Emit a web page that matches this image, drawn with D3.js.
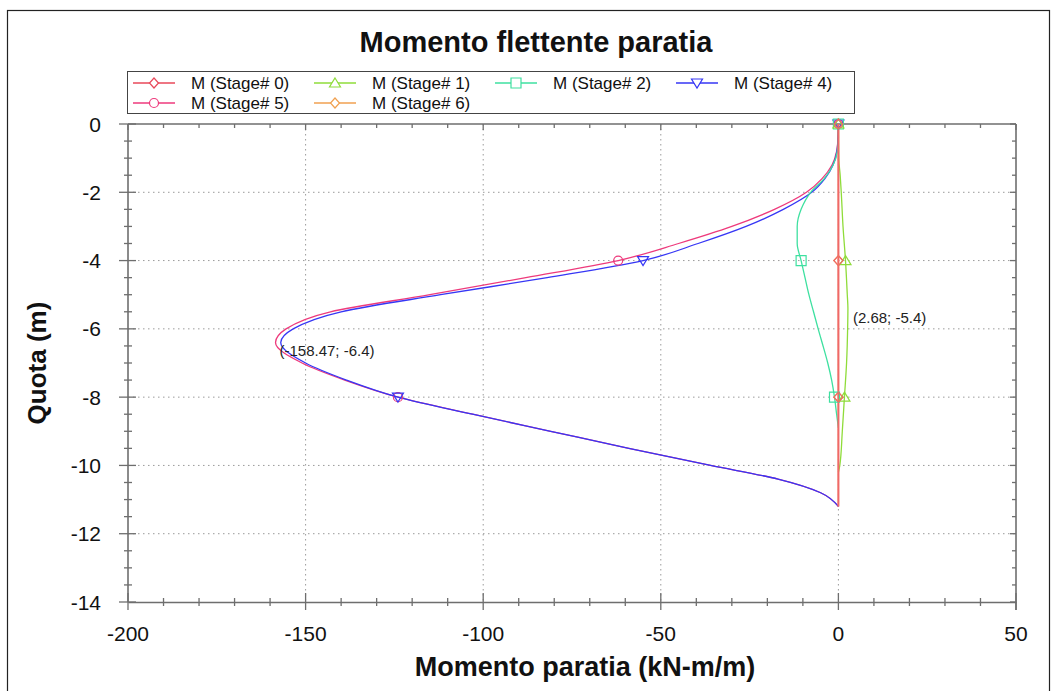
<!DOCTYPE html>
<html><head><meta charset="utf-8">
<script src="https://cdn.jsdelivr.net/npm/d3@7/dist/d3.min.js"></script>
<style>
html,body{margin:0;padding:0;background:#fff;}
svg{display:block;font-family:"Liberation Sans",Arial,sans-serif;}
</style></head>
<body>
<svg id="chart" width="1058" height="691"></svg>
<script>
// ---- data ----
const chartTitle = "Momento flettente paratia";
const xTitle = "Momento paratia (kN-m/m)";
const yTitle = "Quota (m)";
const xTicks = [-200, -150, -100, -50, 0, 50];
const yTicks = [0, -2, -4, -6, -8, -10, -12, -14];
const markerQuotas = [0, -4, -8];

const quotaMain = [0, -0.4, -0.8, -1.2, -1.6, -2, -2.5, -3, -3.5, -4, -4.5, -5, -5.5, -6, -6.4, -7, -7.5, -8, -8.5, -9, -9.5, -10, -10.4, -10.8, -11.2];
const stage0 = [0, 0, 0, 0, 0, 0, 0, 0, 0, 0, 0, 0, 0, 0, 0, 0, 0, 0, 0, 0, 0, 0, 0, 0, 0];
const stage6 = [0, 0, 0, 0, 0, 0, 0, 0, 0, 0, 0, 0, 0, 0, 0, 0, 0, 0, 0, 0, 0, 0, 0, 0, 0];
const stage5 = [0, -0.1, -0.5, -1.8, -4.6, -9, -18, -30, -45, -62, -88, -115, -143, -155.5, -158.47, -151, -139, -124, -103, -81, -59, -36, -17, -5, 0];
const stage4 = [0, -0.1, -0.4, -1.5, -3.8, -7.5, -15.5, -26, -39.5, -55, -82, -112, -140, -153.5, -157, -150, -138.5, -124, -103, -81, -59, -36, -17, -5, 0];

const quotaStage2 = [0, -0.4, -0.8, -1.2, -1.6, -2, -2.5, -3, -3.5, -4, -4.5, -5, -5.5, -6, -6.4, -7, -7.5, -8, -8.5, -8.9];
const stage2 = [0, 0, -0.3, -1.5, -4, -7.8, -10.5, -11.6, -11.6, -10.5, -9.4, -8.3, -7.0, -5.7, -4.6, -3.0, -1.9, -1.1, -0.5, 0];

const quotaStage1 = [0, -1, -1.5, -2, -3, -4, -5, -5.4, -6, -7, -8, -9, -10, -10.2];
const stage1 = [0, 0.1, 0.5, 0.8, 1.3, 2.0, 2.5, 2.68, 2.6, 2.3, 1.7, 1.1, 0.4, 0];

const series = [
  {name: "M (Stage# 0)", q: quotaMain, m: stage0, color: "#f06868", legendColor: "#e8485a", marker: "diamond", width: 2},
  {name: "M (Stage# 1)", q: quotaStage1, m: stage1, color: "#8fdc3a", legendColor: "#8fdc3a", marker: "triangle", width: 1.3},
  {name: "M (Stage# 2)", q: quotaStage2, m: stage2, color: "#3ee0a0", legendColor: "#3ee0a0", marker: "square", width: 1.3},
  {name: "M (Stage# 4)", q: quotaMain, m: stage4, color: "#3636f5", legendColor: "#3636f5", marker: "triangleDown", width: 1.3},
  {name: "M (Stage# 5)", q: quotaMain, m: stage5, color: "#ee3a7c", legendColor: "#ee3a7c", marker: "circle", width: 1.3},
  {name: "M (Stage# 6)", q: quotaMain, m: stage6, color: "#f0a050", legendColor: "#f0a050", marker: "diamond", width: 1.3}
];
const drawOrder = [5, 4, 3, 2, 1, 0];

const annotations = [
  {x: -158.47, y: -6.4, text: "(-158.47; -6.4)"},
  {x: 2.68, y: -5.4, text: "(2.68; -5.4)"}
];

// ---- layout ----
const svg = d3.select("#chart");
const L = 128, R = 1016, T = 124, B = 602;
const x = d3.scaleLinear().domain([-200, 50]).range([L, R]);
const y = d3.scaleLinear().domain([-14, 0]).range([B, T]);
const axisColor = "#6e6e6e";

// outer frame
svg.append("rect").attr("x", 7.5).attr("y", 10.5).attr("width", 1042).attr("height", 700)
  .attr("fill", "none").attr("stroke", "#222").attr("stroke-width", 1.2);

// title
svg.append("text").attr("x", 536).attr("y", 52).attr("text-anchor", "middle")
  .attr("font-size", 29).attr("font-weight", "bold").attr("fill", "#111").text(chartTitle);

// grid
const g = svg.append("g");
g.selectAll(".vg").data(xTicks.filter(v => v > -200 && v < 50)).enter().append("line")
  .attr("x1", d => x(d)).attr("x2", d => x(d)).attr("y1", T).attr("y2", B)
  .attr("stroke", "#9a9a9a").attr("stroke-width", 1).attr("stroke-dasharray", "1.5,3.5");
g.selectAll(".hg").data(yTicks.filter(v => v < 0 && v > -14)).enter().append("line")
  .attr("y1", d => y(d)).attr("y2", d => y(d)).attr("x1", L).attr("x2", R)
  .attr("stroke", "#9a9a9a").attr("stroke-width", 1).attr("stroke-dasharray", "1.5,3.5");

// axes
const minorX = d3.range(-200, 51, 10);
const minorY = d3.range(0, -14.01, -0.5);
const axG = svg.append("g").attr("stroke", axisColor).attr("stroke-width", 1.3);
// bottom
const xAxisB = d3.axisBottom(x).tickValues(minorX).tickSize(0).tickFormat("");
axG.append("g").attr("transform", `translate(0,${B})`).call(xAxisB).select(".domain").attr("stroke", axisColor).attr("stroke-width", 1.6);
axG.selectAll(".mxb").data(minorX).enter().append("line")
  .attr("x1", d => x(d)).attr("x2", d => x(d))
  .attr("y1", d => xTicks.includes(d) ? B - 9 : B - 4).attr("y2", d => xTicks.includes(d) ? B + 8 : B + 4);
// top
axG.append("line").attr("x1", L).attr("x2", R).attr("y1", T).attr("y2", T).attr("stroke-width", 1.6);
axG.selectAll(".mxt").data(minorX).enter().append("line")
  .attr("x1", d => x(d)).attr("x2", d => x(d)).attr("y1", T).attr("y2", d => xTicks.includes(d) ? T + 6 : T + 4);
// left
axG.append("line").attr("x1", L).attr("x2", L).attr("y1", T).attr("y2", B).attr("stroke-width", 1.6);
axG.selectAll(".myl").data(minorY).enter().append("line")
  .attr("y1", d => y(d)).attr("y2", d => y(d))
  .attr("x1", d => yTicks.includes(d) ? L - 9 : L - 4).attr("x2", d => yTicks.includes(d) ? L + 8 : L + 4);
// right
axG.append("line").attr("x1", R).attr("x2", R).attr("y1", T).attr("y2", B + 8).attr("stroke-width", 1.6);
axG.selectAll(".myr").data(minorY).enter().append("line")
  .attr("y1", d => y(d)).attr("y2", d => y(d)).attr("x1", d => yTicks.includes(d) ? R - 6 : R - 4).attr("x2", R);

// tick labels
svg.append("g").selectAll("text").data(xTicks).enter().append("text")
  .attr("x", d => x(d)).attr("y", 641).attr("text-anchor", "middle")
  .attr("font-size", 21).attr("fill", "#111").text(d => d);
svg.append("g").selectAll("text").data(yTicks).enter().append("text")
  .attr("x", 101).attr("y", d => y(d) + 7.5).attr("text-anchor", "end")
  .attr("font-size", 21).attr("fill", "#111").text(d => d);

// axis titles
svg.append("text").attr("x", 585).attr("y", 676).attr("text-anchor", "middle")
  .attr("font-size", 27).attr("font-weight", "bold").attr("fill", "#111").text(xTitle);
svg.append("text").attr("transform", `translate(46,${(T + B) / 2}) rotate(-90)`).attr("text-anchor", "middle")
  .attr("font-size", 26).attr("font-weight", "bold").attr("fill", "#111").text(yTitle);

// markers
function markerPath(type, cx, cy) {
  const p = d3.path();
  if (type === "diamond") { p.moveTo(cx, cy - 5); p.lineTo(cx + 4.5, cy); p.lineTo(cx, cy + 5); p.lineTo(cx - 4.5, cy); p.closePath(); }
  else if (type === "triangle") { p.moveTo(cx, cy - 5); p.lineTo(cx + 5.5, cy + 4); p.lineTo(cx - 5.5, cy + 4); p.closePath(); }
  else if (type === "triangleDown") { p.moveTo(cx - 5.5, cy - 4); p.lineTo(cx + 5.5, cy - 4); p.lineTo(cx, cy + 5); p.closePath(); }
  else if (type === "square") { p.rect(cx - 5, cy - 5, 10, 10); }
  else if (type === "circle") { p.moveTo(cx + 4.5, cy); p.arc(cx, cy, 4.5, 0, 2 * Math.PI); }
  return p.toString();
}

const line = d3.line().x(d => x(d[1])).y(d => y(d[0])).curve(d3.curveMonotoneY);
const plotG = svg.append("g");
drawOrder.forEach(i => {
  const s = series[i];
  const pts = s.q.map((q, k) => [q, s.m[k]]);
  plotG.append("path").attr("d", line(pts)).attr("fill", "none")
    .attr("stroke", s.color).attr("stroke-width", s.width);
});
drawOrder.forEach(i => {
  const s = series[i];
  const pts = s.q.map((q, k) => [q, s.m[k]]).filter(p => markerQuotas.includes(p[0]));
  plotG.selectAll(null).data(pts).enter().append("path")
    .attr("d", p => markerPath(s.marker, x(p[1]), y(p[0])))
    .attr("fill", "none").attr("stroke", s.color).attr("stroke-width", 1.2);
});

// annotations
svg.append("g").selectAll("text").data(annotations).enter().append("text")
  .attr("x", d => d.x < 0 ? x(d.x) + 4 : x(d.x) + 5)
  .attr("y", d => y(d.y) + (d.x < 0 ? 13 : 15))
  .attr("font-size", 15).attr("fill", "#222").text(d => d.text);

// legend
const lg = svg.append("g");
lg.append("rect").attr("x", 127.5).attr("y", 71.5).attr("width", 727).attr("height", 42)
  .attr("fill", "#fff").attr("stroke", "#444").attr("stroke-width", 1);
series.forEach((s, i) => {
  const col = i % 4, row = Math.floor(i / 4);
  const lx = 133 + col * 181, ly = 83 + row * 20;
  lg.append("line").attr("x1", lx).attr("x2", lx + 42).attr("y1", ly).attr("y2", ly)
    .attr("stroke", s.legendColor).attr("stroke-width", 1.5);
  lg.append("path").attr("d", markerPath(s.marker, lx + 21, ly)).attr("fill", "#fff")
    .attr("stroke", s.legendColor).attr("stroke-width", 1.2);
  lg.append("text").attr("x", lx + 58).attr("y", ly + 6).attr("font-size", 17).attr("fill", "#111").text(s.name);
});
</script>
</body></html>
